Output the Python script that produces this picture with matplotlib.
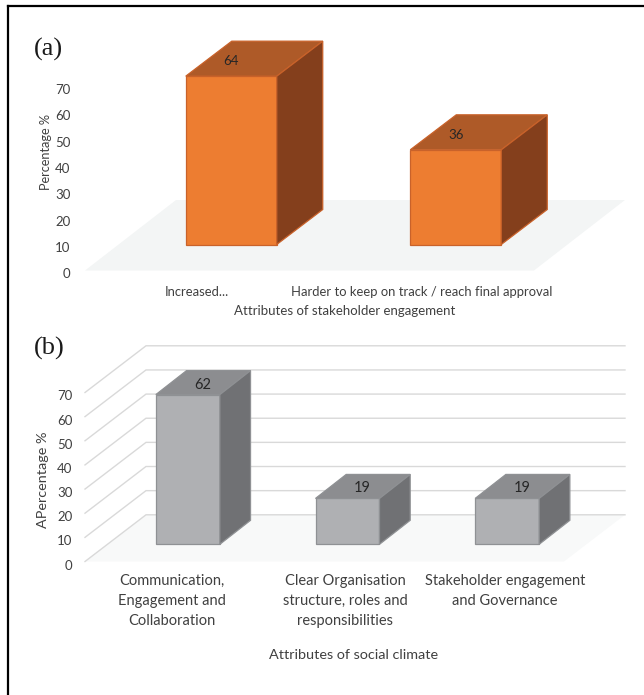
import matplotlib
matplotlib.use("Agg")
import matplotlib.pyplot as plt
from matplotlib.patches import Polygon
from matplotlib.lines import Line2D
from matplotlib.transforms import ScaledTranslation

W, H = 644, 695

# panel (a)
cats_a = ["Increased...", "Harder to keep on track / reach final approval"]
vals_a = [64, 36]
# panel (b)
cats_b = ["Communication,\nEngagement and\nCollaboration",
          "Clear Organisation\nstructure, roles and\nresponsibilities",
          "Stakeholder engagement\nand Governance"]
vals_b = [62, 19, 19]
yticks = [0, 10, 20, 30, 40, 50, 60, 70]

ORANGE = dict(front="#ED7D31", top="#AE5A28", side="#843F1C", edge="#C9622A")
GREY = dict(front="#AFB0B3", top="#8C8D90", side="#707174", edge="#8F9194")
TEXT = "#404040"

plt.rcParams["font.family"] = ["Lato", "DejaVu Sans"]


def px_axes(fig, left, right, y0, y70):
    ax = fig.add_axes([left / W, 1 - y0 / H, (right - left) / W, (y0 - y70) / H])
    ax.patch.set_visible(False)
    for s in ax.spines.values():
        s.set_visible(False)
    return ax


def bar3d(ax, x, val, width, lift, depth, col, label_shift, fs):
    # lift moves the front face back from the front of the floor, depth is the box itself
    x0 = x - width / 2 + lift[0]
    x1 = x + width / 2 + lift[0]
    y0 = lift[1]
    y1 = lift[1] + val
    dx, dy = depth
    faces = [
        ([(x0, y0), (x1, y0), (x1, y1), (x0, y1)], col["front"]),
        ([(x0, y1), (x1, y1), (x1 + dx, y1 + dy), (x0 + dx, y1 + dy)], col["top"]),
        ([(x1, y0), (x1 + dx, y0 + dy), (x1 + dx, y1 + dy), (x1, y1)], col["side"]),
    ]
    for pts, c in faces:
        ax.add_patch(Polygon(pts, closed=True, fc=c, ec=col["edge"], lw=0.9,
                             zorder=4, clip_on=False))
    ax.text(x + lift[0] + label_shift[0], y1 + label_shift[1], str(val), ha="center",
            va="center", fontsize=fs, color="#262626", zorder=5, clip_on=False)


def style_axis(ax, fig, tick_fs, tick_pad, shift_px):
    ax.set_yticks(yticks)
    ax.tick_params(axis="y", length=0, pad=tick_pad, labelsize=tick_fs, labelcolor=TEXT)
    off = ScaledTranslation(0, -shift_px / 100, fig.dpi_scale_trans)
    for lab in ax.get_yticklabels():
        lab.set_transform(lab.get_transform() + off)


fig = plt.figure(figsize=(W / 100, H / 100), dpi=100, facecolor="white")

# frame along the top and left
fig.add_artist(Line2D([7.5 / W, 1], [1 - 5.5 / H, 1 - 5.5 / H], color="black", lw=1.6,
                      transform=fig.transFigure))
fig.add_artist(Line2D([7.5 / W, 7.5 / W], [1 - 5.5 / H, 0], color="black", lw=1.6,
                      transform=fig.transFigure))

# ---- (a) ----
ax = px_axes(fig, 85, 534, 270.5, 86.4)
ax.set_xlim(0, 2)
ax.set_ylim(0, 70)
xu = 449 / 2
yu = 184.1 / 70
floor_dx, floor_dy = 91 / xu, 70.5 / yu
ax.add_patch(Polygon([(0, 0), (2, 0), (2 + floor_dx, floor_dy), (floor_dx, floor_dy)],
                     closed=True, fc="#F3F5F5", ec="none", zorder=1, clip_on=False))
for i, v in enumerate(vals_a):
    bar3d(ax, i + 0.5, v, 91 / xu, (34 / xu, 26 / yu), (46 / xu, 35 / yu), ORANGE,
          (0, 15 / yu), 9.5)
ax.set_xticks([0.5, 1.5], cats_a)
ax.tick_params(axis="x", length=0, pad=11.5, labelsize=9.4, labelcolor=TEXT)
style_axis(ax, fig, 9.5, 10.5, 2.8)
ax.set_xlabel("Attributes of stakeholder engagement", fontsize=9.5, color=TEXT, va="center")
ax.xaxis.set_label_coords((344.5 - 85) / 449, -(311 - 270.5) / 184.1)
ax.set_ylabel("Percentage %", fontsize=9.2, color=TEXT, va="center")
ax.yaxis.set_label_coords((46 - 85) / 449, (270.5 - 152) / 184.1)

# ---- (b) ----
bx = px_axes(fig, 85, 564, 561.5, 392.5)
bx.set_xlim(0, 3)
bx.set_ylim(0, 70)
xu = 479 / 3
yu = 169 / 70
wall_dx, wall_dy = 61 / xu, 46.7 / yu
bx.add_patch(Polygon([(0, 0), (3, 0), (3 + wall_dx, wall_dy), (wall_dx, wall_dy)],
                     closed=True, fc="#F8F9F9", ec="none", zorder=1, clip_on=False))
for t in yticks:
    bx.plot([0, wall_dx, 3 + wall_dx], [t, t + wall_dy, t + wall_dy], color="#D9D9D9",
            lw=1.0, zorder=2, clip_on=False, solid_joinstyle="miter")
for i, v in enumerate(vals_b):
    bar3d(bx, i + 0.5, v, 64 / xu, (23 / xu, 17.2 / yu), (30.7 / xu, 24 / yu), GREY,
          (15 / xu, 10 / yu), 10.5)
bx.set_xticks([(172 - 85) / xu, (345 - 85) / xu, (505 - 85) / xu], cats_b, linespacing=1.55)
bx.tick_params(axis="x", length=0, pad=9, labelsize=10.5, labelcolor=TEXT)
style_axis(bx, fig, 9.5, 9, 3)
bx.set_xlabel("Attributes of social climate", fontsize=10.4, color=TEXT, va="center")
bx.xaxis.set_label_coords((353.5 - 85) / 479, -(655 - 561.5) / 169)
bx.set_ylabel("APercentage %", fontsize=10.4, color=TEXT, va="center")
bx.yaxis.set_label_coords((43 - 85) / 479, (561.5 - 480) / 169)

# panel letters
fig.text(34 / W, 1 - 56 / H, "(a)", family="Liberation Serif", fontsize=19, color="#1a1a1a")
fig.text(34 / W, 1 - 355 / H, "(b)", family="Liberation Serif", fontsize=19, color="#1a1a1a")

fig.savefig("out.png", dpi=100)
